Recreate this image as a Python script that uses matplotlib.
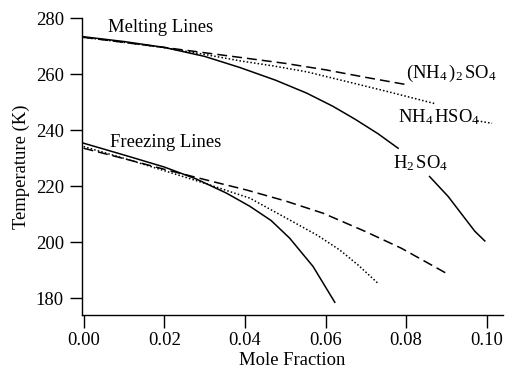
import matplotlib
matplotlib.use("Agg")
import matplotlib.pyplot as plt
import numpy as np

plt.rcParams["font.family"] = ["Liberation Serif", "DejaVu Serif"]
plt.rcParams["mathtext.fontset"] = "custom"
plt.rcParams["mathtext.rm"] = "Liberation Serif"
plt.rcParams["mathtext.it"] = "Liberation Serif"

gap = np.nan  # break in a curve where its label sits

# Melting lines (ice melting point vs mole fraction of solute)
melt_h2so4_x = [0, 0.01, 0.02, 0.03, 0.0388, 0.0476, 0.0553, 0.0618, 0.0674,
                0.073, 0.078, gap, 0.0858, 0.0904, 0.097, 0.0995]
melt_h2so4_t = [273.4, 271.7, 269.6, 266.4, 262.4, 257.9, 253.3, 248.6, 243.9,
                238.8, 233.6, gap, 223.5, 216.4, 204.0, 200.5]
melt_as_x = [0, 0.01, 0.02, 0.03, 0.04, 0.05, 0.06, 0.07, 0.0805]
melt_as_t = [273.2, 271.4, 269.6, 267.7, 265.8, 263.9, 261.6, 258.9, 256.2]
melt_abs_x = [0, 0.01, 0.02, 0.03, 0.0388, 0.047, 0.0553, 0.065, 0.0752,
              0.0872, gap, 0.0976, 0.1013]
melt_abs_t = [273.2, 271.4, 269.5, 267.1, 264.8, 263.0, 260.9, 257.5, 253.9,
              249.5, gap, 243.4, 242.5]

# Freezing lines (homogeneous freezing temperature)
frz_h2so4_x = [0, 0.01, 0.02, 0.028, 0.0354, 0.0412, 0.0465, 0.0511, 0.0569, 0.0623]
frz_h2so4_t = [235.4, 231.2, 226.9, 222.6, 217.6, 212.9, 207.8, 201.5, 191.4, 178.6]
frz_as_x = [0, 0.01, 0.02, 0.032, 0.0404, 0.05, 0.0594, 0.07, 0.0788, 0.0899]
frz_as_t = [233.6, 229.9, 226.1, 221.7, 218.7, 214.8, 210.4, 203.8, 197.9, 189.0]
frz_abs_x = [0, 0.01, 0.02, 0.03, 0.0412, 0.0511, 0.058, 0.0635, 0.068, 0.073]
frz_abs_t = [234.2, 230.0, 225.6, 221.1, 215.8, 208.0, 202.5, 197.3, 192.0, 185.4]

x_ticks = [0.00, 0.02, 0.04, 0.06, 0.08, 0.10]
y_ticks = [180, 200, 220, 240, 260, 280]

fig = plt.figure(figsize=(5.06, 3.73), dpi=100)
ax = fig.add_axes([0.162, 0.155, 0.832, 0.796])

lw = 1.1
dash = (6.5, 3.3)
dot = (1.0, 1.4)

ax.plot(melt_h2so4_x, melt_h2so4_t, color="black", lw=lw)
ax.plot(melt_as_x, melt_as_t, color="black", lw=lw, dashes=dash)
ax.plot(melt_abs_x, melt_abs_t, color="black", lw=lw, dashes=dot)
ax.plot(frz_h2so4_x, frz_h2so4_t, color="black", lw=lw)
ax.plot(frz_as_x, frz_as_t, color="black", lw=lw, dashes=dash)
ax.plot(frz_abs_x, frz_abs_t, color="black", lw=lw, dashes=dot)

fs = 13.4
ax.text(0.0061, 275.2, "Melting Lines", fontsize=fs, va="baseline", ha="left")
ax.text(0.0066, 234.1, "Freezing Lines", fontsize=fs, va="baseline", ha="left")
ax.text(0.0800, 258.7, r"$\mathregular{(NH_4\,)_2\,SO_4}$", fontsize=fs,
        va="baseline", ha="left")
ax.text(0.0780, 242.7, r"$\mathregular{NH_4\,HSO_4}$", fontsize=fs,
        va="baseline", ha="left")
ax.text(0.0767, 226.5, r"$\mathregular{H_2\,SO_4}$", fontsize=fs,
        va="baseline", ha="left")

ax.set_xlim(-0.0004, 0.104)
ax.set_ylim(174, 280)
ax.set_xticks(x_ticks)
ax.set_xticklabels([f"{v:.2f}" for v in x_ticks])
ax.set_yticks(y_ticks)

for side in ("top", "right"):
    ax.spines[side].set_visible(False)
for side in ("left", "bottom"):
    ax.spines[side].set_linewidth(1.0)

ax.tick_params(direction="out", length=9, width=1.0, labelsize=fs)
ax.tick_params(axis="x", pad=3)
ax.tick_params(axis="y", pad=4)

ax.set_xlabel("Mole Fraction", fontsize=fs, labelpad=2)
ax.set_ylabel("Temperature (K)", fontsize=fs, labelpad=4)

fig.savefig("out.png", dpi=100)
